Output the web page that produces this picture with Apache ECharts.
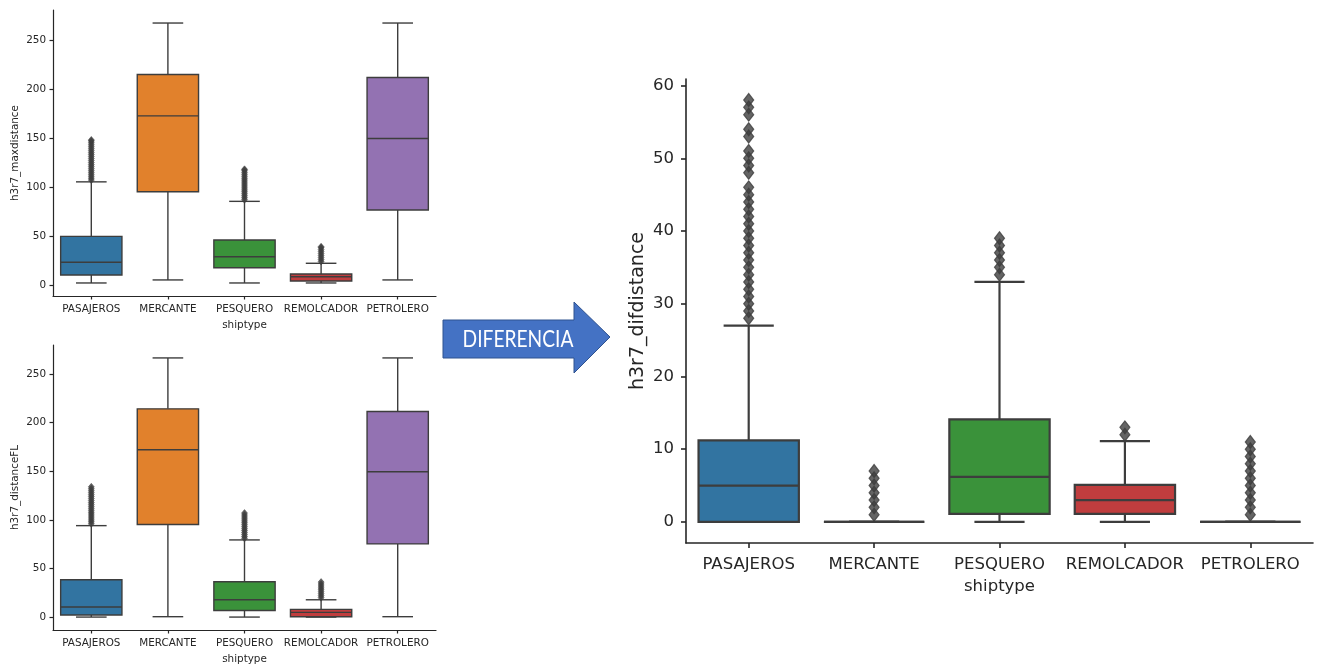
<!DOCTYPE html>
<html>
<head>
<meta charset="utf-8">
<script src="https://cdn.jsdelivr.net/npm/echarts@6/dist/echarts.min.js"></script>
<style>
html,body{margin:0;padding:0;background:#fff;}
#chart{width:1318px;height:666px;}
</style>
</head>
<body>
<div id="chart"></div>
<script>
// ---------- data ----------
const categories = ['PASAJEROS', 'MERCANTE', 'PESQUERO', 'REMOLCADOR', 'PETROLERO'];

// box stats per category: [lower whisker, Q1, median, Q3, upper whisker]
const maxdistanceStats = [
  [2.0, 10.2, 23.1, 49.6, 105.2],
  [5.1, 95.1, 172.5, 214.7, 267.3],
  [2.0, 17.6, 28.8, 45.8, 85.3],
  [2.0, 4.0, 8.4, 11.2, 22.1],
  [5.1, 76.4, 149.5, 211.7, 267.3]
];
const maxdistanceOutliers = [
  [107, 109, 111, 113, 115, 117, 119, 121, 123, 125, 127, 129, 131, 133, 135, 137, 139, 141, 143, 145, 147, 148],
  [],
  [87, 89, 91, 93, 95, 97, 99, 101, 103, 105, 107, 109, 111, 113, 115, 117, 118],
  [24, 26, 28, 30, 32, 34, 36, 38, 39],
  []
];

const distanceFLStats = [
  [0, 2.1, 10.3, 38.4, 94.1],
  [0.4, 95.2, 172.2, 214.3, 266.7],
  [0, 6.8, 17.8, 36.3, 79.4],
  [0, 0.4, 4.8, 7.9, 17.8],
  [0.4, 75.3, 149.6, 211.6, 266.7]
];
const distanceFLOutliers = [
  [96, 98, 100, 102, 104, 106, 108, 110, 112, 114, 116, 118, 120, 122, 124, 126, 128, 130, 132, 134],
  [],
  [81, 83, 85, 87, 89, 91, 93, 95, 97, 99, 101, 103, 105, 107],
  [20, 22, 24, 26, 28, 30, 32, 34, 36],
  []
];

const difdistanceStats = [
  [0, 0, 5, 11.2, 27],
  [0, 0, 0, 0, 0],
  [0, 1.1, 6.2, 14.1, 33],
  [0, 1.1, 3, 5.1, 11.1],
  [0, 0, 0, 0, 0]
];
const difdistanceOutliers = [
  [28, 29, 30, 31, 32, 33, 34, 35, 36, 37, 38, 39, 40, 41, 42, 43, 44, 45, 46, 48, 49, 50, 51, 53, 54, 56, 57, 58],
  [1, 2, 3, 4, 5, 6, 7],
  [34, 35, 36, 37, 38, 39],
  [12, 13],
  [1, 2, 3, 4, 5, 6, 7, 8, 9, 10, 11]
];

const smallTicks = [0, 50, 100, 150, 200, 250];
const bigTicks = [0, 10, 20, 30, 40, 50, 60];

// ---------- styles ----------
const palette = ['#3274a1', '#e1812c', '#3a923a', '#c03d3e', '#9372b2'];
const edge = '#3d3d3d';
const txt = '#262626';
const FONT = 'DejaVu Sans';

function boxRenderer(lw) {
  return function (params, api) {
    const idx = api.value(0);
    const band = api.size([1, 0])[0];
    const half = band * 0.4, cap = band * 0.2;
    const c = v => api.coord([idx, v]);
    const pMin = c(api.value(1)), pQ1 = c(api.value(2)), pMed = c(api.value(3)),
          pQ3 = c(api.value(4)), pMax = c(api.value(5));
    const x = pMed[0];
    const ls = { stroke: edge, lineWidth: lw };
    return {
      type: 'group',
      children: [
        { type: 'line', shape: { x1: x, y1: pQ3[1], x2: x, y2: pMax[1] }, style: ls },
        { type: 'line', shape: { x1: x, y1: pQ1[1], x2: x, y2: pMin[1] }, style: ls },
        { type: 'line', shape: { x1: x - cap, y1: pMax[1], x2: x + cap, y2: pMax[1] }, style: ls },
        { type: 'line', shape: { x1: x - cap, y1: pMin[1], x2: x + cap, y2: pMin[1] }, style: ls },
        { type: 'rect', shape: { x: x - half, y: pQ3[1], width: 2 * half, height: pQ1[1] - pQ3[1] },
          style: { fill: palette[params.dataIndex], stroke: edge, lineWidth: lw } },
        { type: 'line', shape: { x1: x - half, y1: pMed[1], x2: x + half, y2: pMed[1] }, style: ls }
      ]
    };
  };
}

function boxData(stats) {
  return stats.map((s, i) => [i].concat(s));
}
function outlierData(outs) {
  const r = [];
  outs.forEach((arr, i) => arr.forEach(v => r.push([i, v])));
  return r;
}

function xAxisCfg(gi, fs, tickLen, margin, nameGap, lw) {
  return {
    gridIndex: gi, type: 'category', data: categories, boundaryGap: true,
    axisLine: { show: true, onZero: false, lineStyle: { color: txt, width: lw } },
    axisTick: { show: true, alignWithLabel: true, length: tickLen, lineStyle: { color: txt, width: lw } },
    axisLabel: { interval: 0, fontSize: fs, color: txt, margin: margin, fontFamily: FONT },
    splitLine: { show: false },
    name: 'shiptype', nameLocation: 'middle', nameGap: nameGap,
    nameTextStyle: { fontSize: fs, color: txt, fontFamily: FONT }
  };
}
function yAxisCfg(gi, min, max, ticks, fs, nfs, tickLen, margin, name, nameGap, lw) {
  return {
    gridIndex: gi, type: 'value', min: min, max: max,
    axisLine: { show: true, onZero: false, lineStyle: { color: txt, width: lw } },
    axisTick: { show: true, length: tickLen, customValues: ticks, lineStyle: { color: txt, width: lw } },
    axisLabel: { customValues: ticks, fontSize: fs, color: txt, margin: margin, fontFamily: FONT },
    splitLine: { show: false },
    name: name, nameLocation: 'middle', nameGap: nameGap,
    nameTextStyle: { fontSize: nfs, color: txt, fontFamily: FONT }
  };
}

const chart = echarts.init(document.getElementById('chart'), null, { renderer: 'canvas' });
chart.setOption({
  backgroundColor: '#ffffff',
  animation: false,
  grid: [
    { left: 53, top: 10, width: 383, height: 286 },
    { left: 53, top: 345, width: 383, height: 285 },
    { left: 686, top: 79, width: 627, height: 464 }
  ],
  xAxis: [
    xAxisCfg(0, 10.4, 3.5, 8, 24, 1.2),
    xAxisCfg(1, 10.4, 3.5, 8, 24, 1.2),
    xAxisCfg(2, 16.5, 5, 13, 34, 1.6)
  ],
  yAxis: [
    yAxisCfg(0, -11.3, 280.6, smallTicks, 10.4, 10.4, 3.5, 7, 'h3r7_maxdistance', 33, 1.2),
    yAxisCfg(1, -13.3, 280, smallTicks, 10.4, 10.4, 3.5, 7, 'h3r7_distanceFL', 33, 1.2),
    yAxisCfg(2, -2.9, 60.9, bigTicks, 16.5, 19, 5, 12, 'h3r7_difdistance', 38, 1.6)
  ],
  series: [
    { type: 'custom', xAxisIndex: 0, yAxisIndex: 0, renderItem: boxRenderer(1.4), data: boxData(maxdistanceStats), z: 2 },
    { type: 'scatter', xAxisIndex: 0, yAxisIndex: 0, symbol: 'diamond', symbolSize: [6, 7],
      itemStyle: { color: edge, borderColor: edge, borderWidth: 0.6 }, data: outlierData(maxdistanceOutliers), z: 3 },
    { type: 'custom', xAxisIndex: 1, yAxisIndex: 1, renderItem: boxRenderer(1.4), data: boxData(distanceFLStats), z: 2 },
    { type: 'scatter', xAxisIndex: 1, yAxisIndex: 1, symbol: 'diamond', symbolSize: [6, 7],
      itemStyle: { color: edge, borderColor: edge, borderWidth: 0.6 }, data: outlierData(distanceFLOutliers), z: 3 },
    { type: 'custom', xAxisIndex: 2, yAxisIndex: 2, renderItem: boxRenderer(2.2), data: boxData(difdistanceStats), z: 2 },
    { type: 'scatter', xAxisIndex: 2, yAxisIndex: 2, symbol: 'diamond', symbolSize: [10, 13],
      itemStyle: { color: edge, borderColor: edge, borderWidth: 1.2 }, data: outlierData(difdistanceOutliers), z: 3 }
  ],
  graphic: [
    { type: 'polygon',
      shape: { points: [[443, 320], [574, 320], [574, 302], [610, 337], [574, 373], [574, 358], [443, 358]] },
      style: { fill: '#4472c4', stroke: '#2f528f', lineWidth: 1 } },
    { type: 'text', x: 518, y: 339, scaleX: 0.8,
      style: { text: 'DIFERENCIA', fill: '#ffffff', font: '24px Lato', align: 'center', verticalAlign: 'middle' } }
  ]
});
</script>
</body>
</html>
